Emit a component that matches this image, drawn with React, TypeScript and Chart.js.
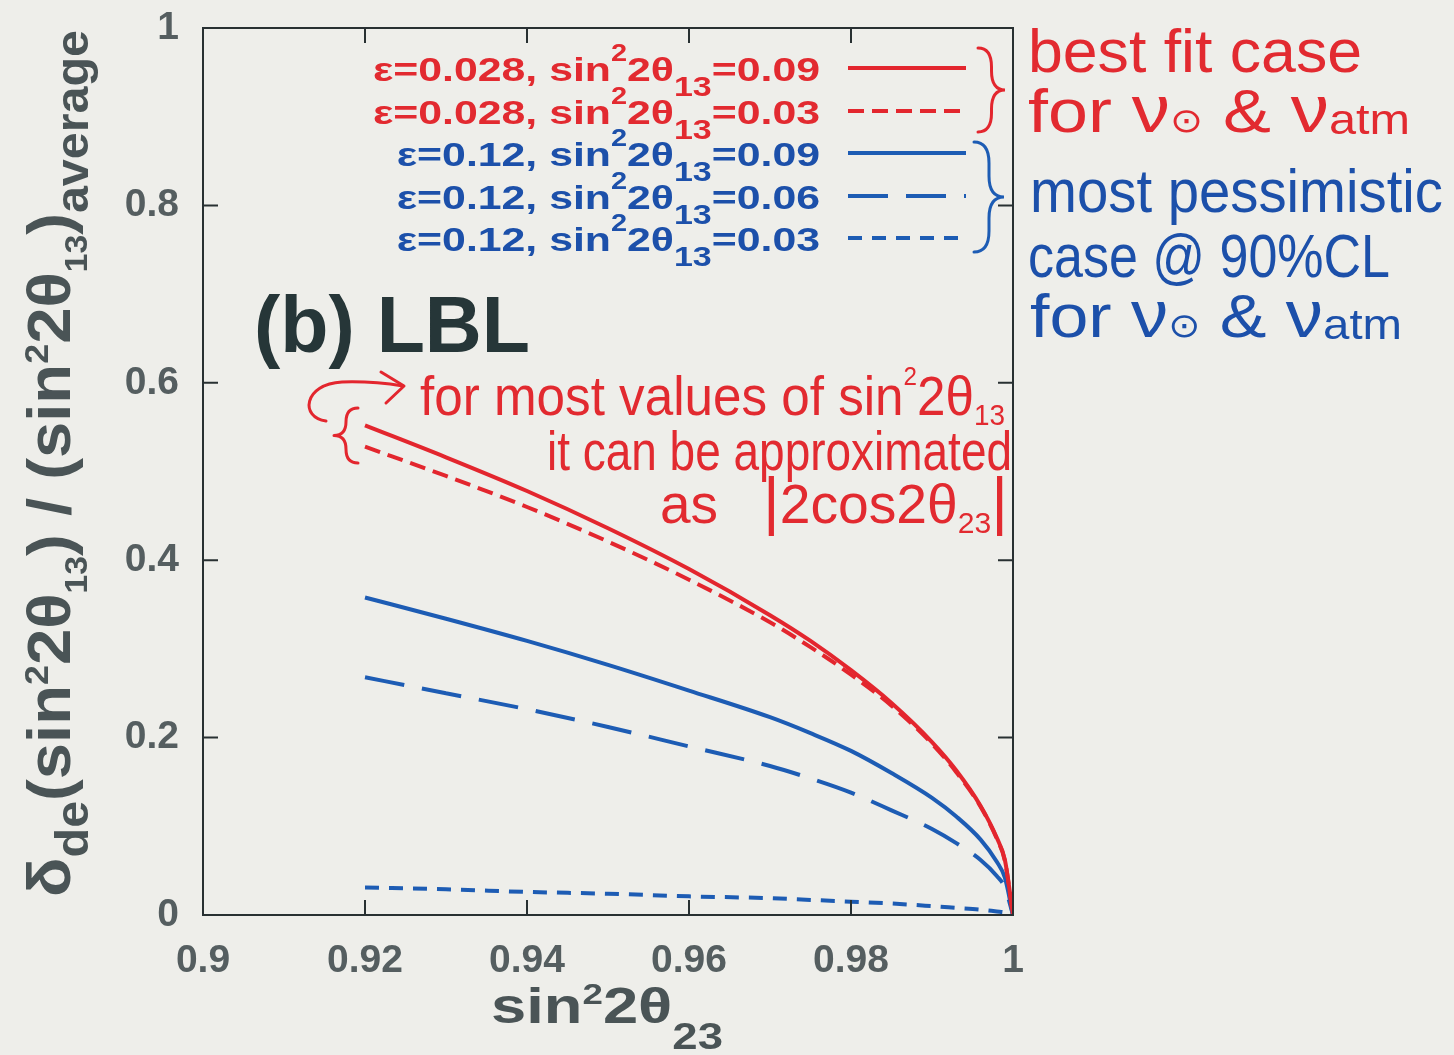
import React, { useEffect, useRef } from "react";
import { Chart, registerables } from "chart.js";

Chart.register(...registerables);

// ---------- data ----------
const xValues = [0.92, 0.93, 0.94, 0.95, 0.96, 0.97, 0.975, 0.98, 0.985, 0.99, 0.993, 0.996, 0.998, 0.999, 1.0];
const redSolid = [0.552, 0.516, 0.478, 0.436, 0.39, 0.338, 0.309, 0.276, 0.239, 0.195, 0.163, 0.123, 0.087, 0.062, 0.0];
const redDashed = [0.528, 0.495, 0.46, 0.421, 0.378, 0.33, 0.302, 0.271, 0.236, 0.193, 0.161, 0.122, 0.086, 0.061, 0.0];
const blueSolid = [0.358, 0.334, 0.309, 0.282, 0.253, 0.223, 0.205, 0.185, 0.16, 0.132, 0.111, 0.085, 0.06, 0.042, 0.0];
const blueLongDash = [0.268, 0.25, 0.232, 0.212, 0.19, 0.168, 0.154, 0.138, 0.118, 0.097, 0.081, 0.062, 0.044, 0.031, 0.0];
const blueShortDash = [0.031, 0.029, 0.026, 0.024, 0.021, 0.019, 0.017, 0.015, 0.013, 0.01, 0.008, 0.006, 0.004, 0.003, 0.0];

const xTicks = [0.9, 0.92, 0.94, 0.96, 0.98, 1.0];
const yTicks = [0, 0.2, 0.4, 0.6, 0.8, 1.0];

const legendEps = ["0.028", "0.028", "0.12", "0.12", "0.12"];
const legendSin13 = ["0.09", "0.03", "0.09", "0.06", "0.03"];

// ---------- styles ----------
const RED = "#e3262e";
const BLUE = "#1d5cb4";
const RED_TXT = "#e22a30";
const BLUE_TXT = "#1c50aa";
const TICK = "#555e60";
const FRAME = "#283032";
const BG = "#eeeeea";
const SANS = "'Liberation Sans', Arial, sans-serif";
const HAND = "'Liberation Sans Narrow', 'Liberation Sans', 'DejaVu Sans', sans-serif";

type Seg = { t: string; size: number; dy?: number; bold?: boolean };

function fontOf(s: Seg, family: string, bold: boolean) {
  const b = s.bold ?? bold;
  return `${b ? "bold " : ""}${s.size}px ${family}`;
}

function richWidth(ctx: CanvasRenderingContext2D, segs: Seg[], family: string, bold: boolean) {
  let w = 0;
  for (const s of segs) {
    ctx.font = fontOf(s, family, bold);
    w += ctx.measureText(s.t).width;
  }
  return w;
}

type RichOpts = {
  family: string;
  bold: boolean;
  color: string;
  align?: "left" | "right" | "center";
  width?: number;
  sx?: number;
  rotate?: boolean;
};

function drawRich(ctx: CanvasRenderingContext2D, segs: Seg[], x: number, y: number, o: RichOpts) {
  const natural = richWidth(ctx, segs, o.family, o.bold);
  const sx = o.width ? o.width / natural : o.sx ?? 1;
  const total = natural * sx;
  ctx.save();
  ctx.translate(x, y);
  if (o.rotate) ctx.rotate(-Math.PI / 2);
  const start = o.align === "right" ? -total : o.align === "center" ? -total / 2 : 0;
  ctx.translate(start, 0);
  ctx.scale(sx, 1);
  ctx.fillStyle = o.color;
  ctx.textBaseline = "alphabetic";
  ctx.textAlign = "left";
  let cx = 0;
  for (const s of segs) {
    ctx.font = fontOf(s, o.family, o.bold);
    ctx.fillText(s.t, cx, s.dy ?? 0);
    cx += ctx.measureText(s.t).width;
  }
  ctx.restore();
  return sx;
}

function drawBrace(ctx: CanvasRenderingContext2D, x: number, y1: number, y2: number, w: number) {
  // w > 0 : tip to the right ; w < 0 : tip to the left
  const xm = x + w * 0.5;
  const xp = x + w;
  const ym = (y1 + y2) / 2;
  const r = Math.min(Math.abs(w) * 0.7, (y2 - y1) / 4);
  ctx.beginPath();
  ctx.moveTo(x, y1);
  ctx.quadraticCurveTo(xm, y1, xm, y1 + r);
  ctx.lineTo(xm, ym - r);
  ctx.quadraticCurveTo(xm, ym, xp, ym);
  ctx.quadraticCurveTo(xm, ym, xm, ym + r);
  ctx.lineTo(xm, y2 - r);
  ctx.quadraticCurveTo(xm, y2, x, y2);
  ctx.stroke();
}

const fmt = (v: number) => String(Number(Number(v).toFixed(2)));

const series = [
  { data: redSolid, color: RED, dash: [] as number[] },
  { data: redDashed, color: RED, dash: [16, 8] },
  { data: blueSolid, color: BLUE, dash: [] as number[] },
  { data: blueLongDash, color: BLUE, dash: [40, 18] },
  { data: blueShortDash, color: BLUE, dash: [14, 10] },
];

const decorPlugin = {
  id: "decor",
  beforeDraw(chart: any) {
    const ctx = chart.ctx as CanvasRenderingContext2D;
    ctx.save();
    ctx.fillStyle = BG;
    ctx.fillRect(0, 0, chart.width, chart.height);
    ctx.restore();
  },
  afterDraw(chart: any) {
    const ctx = chart.ctx as CanvasRenderingContext2D;
    const { left, right, top, bottom } = chart.chartArea;
    const xs = chart.scales.x;
    const ys = chart.scales.y;

    // frame + inner ticks
    ctx.save();
    ctx.strokeStyle = FRAME;
    ctx.lineWidth = 2;
    ctx.strokeRect(left, top, right - left, bottom - top);
    const tl = 15;
    ctx.beginPath();
    for (const v of xTicks.slice(1, -1)) {
      const px = xs.getPixelForValue(v);
      ctx.moveTo(px, bottom);
      ctx.lineTo(px, bottom - tl);
      ctx.moveTo(px, top);
      ctx.lineTo(px, top + tl);
    }
    for (const v of yTicks.slice(1, -1)) {
      const py = ys.getPixelForValue(v);
      ctx.moveTo(left, py);
      ctx.lineTo(left + tl, py);
      ctx.moveTo(right, py);
      ctx.lineTo(right - tl, py);
    }
    ctx.stroke();
    ctx.restore();

    // legend (inside plot, top right)
    const rowY = [68, 111, 153, 196, 238];
    const legendRows: Seg[][] = legendEps.map((e, i) => [
      { t: `ε=${e}, sin`, size: 34 },
      { t: "2", size: 23, dy: -20 },
      { t: "2θ", size: 34 },
      { t: "13", size: 27, dy: 15 },
      { t: `=${legendSin13[i]}`, size: 34 },
    ]);
    const sxLegend = 447 / richWidth(ctx, legendRows[0], SANS, true);
    chart.data.datasets.forEach((ds: any, i: number) => {
      drawRich(ctx, legendRows[i], 820, rowY[i] + 13, {
        family: SANS,
        bold: true,
        color: i < 2 ? RED_TXT : BLUE_TXT,
        align: "right",
        sx: sxLegend,
      });
      ctx.save();
      ctx.strokeStyle = ds.borderColor;
      ctx.lineWidth = 4;
      ctx.setLineDash(ds.borderDash || []);
      ctx.beginPath();
      ctx.moveTo(848, rowY[i]);
      ctx.lineTo(966, rowY[i]);
      ctx.stroke();
      ctx.restore();
    });

    // (b) LBL
    drawRich(ctx, [{ t: "(b) LBL", size: 79 }], 254, 352, {
      family: SANS,
      bold: true,
      color: "#263638",
      width: 276,
    });

    // y-axis title (rotated)
    const yTitle: Seg[] = [
      { t: "δ", size: 62 },
      { t: "de", size: 46, dy: 18 },
      { t: "(sin", size: 62 },
      { t: "2", size: 34, dy: -22 },
      { t: "2θ", size: 62 },
      { t: "13", size: 32, dy: 17 },
      { t: ") / (sin", size: 62 },
      { t: "2", size: 34, dy: -22 },
      { t: "2θ", size: 62 },
      { t: "13", size: 32, dy: 17 },
      { t: ")", size: 62 },
      { t: "average", size: 46, dy: 18 },
    ];
    drawRich(ctx, yTitle, 70, 897, {
      family: SANS,
      bold: true,
      color: "#4a5456",
      rotate: true,
      width: 867,
    });

    // x-axis title
    const xTitle: Seg[] = [
      { t: "sin", size: 50, bold: true },
      { t: "2", size: 29, dy: -19 },
      { t: "2θ", size: 50 },
      { t: "23", size: 36, dy: 26 },
    ];
    drawRich(ctx, xTitle, 491, 1023, {
      family: SANS,
      bold: true,
      color: "#4a5456",
      width: 232,
    });

    // braces next to legend
    ctx.save();
    ctx.lineWidth = 3;
    ctx.lineCap = "round";
    ctx.strokeStyle = RED;
    drawBrace(ctx, 978, 48, 132, 27);
    ctx.strokeStyle = BLUE;
    drawBrace(ctx, 974, 142, 252, 30);
    ctx.restore();

    // hand-written notes on the right
    const red = { family: HAND, bold: false, color: RED_TXT };
    const blue = { family: HAND, bold: false, color: BLUE_TXT };
    drawRich(ctx, [{ t: "best fit case", size: 62 }], 1028, 72, { ...red, width: 334 });
    const forNu: Seg[] = [
      { t: "for ", size: 62 },
      { t: "ν", size: 66 },
      { t: "⊙", size: 34 },
      { t: " & ", size: 62 },
      { t: "ν", size: 66 },
      { t: "atm", size: 42, dy: 2 },
    ];
    drawRich(ctx, forNu, 1028, 132, { ...red, width: 382 });
    drawRich(ctx, [{ t: "most pessimistic", size: 62 }], 1030, 212, { ...blue, width: 413 });
    drawRich(ctx, [{ t: "case @ 90%CL", size: 62 }], 1028, 277, { ...blue, width: 362 });
    drawRich(ctx, forNu, 1030, 337, { ...blue, width: 372 });

    // red annotation inside the plot
    drawRich(
      ctx,
      [
        { t: "for most values of sin", size: 55 },
        { t: "2", size: 26, dy: -30 },
        { t: "2θ", size: 55 },
        { t: "13", size: 30, dy: 10 },
      ],
      420,
      415,
      { ...red, width: 585 }
    );
    drawRich(ctx, [{ t: "it can be approximated", size: 55 }], 547, 470, { ...red, width: 465 });
    drawRich(ctx, [{ t: "as", size: 55 }], 660, 523, { ...red, width: 58 });
    drawRich(
      ctx,
      [
        { t: "|", size: 64 },
        { t: "2cos2θ", size: 55 },
        { t: "23", size: 30, dy: 10 },
        { t: "|", size: 64 },
      ],
      763,
      523,
      { ...red, width: 245 }
    );

    // curved arrow and brace pointing to the red curves
    ctx.save();
    ctx.strokeStyle = RED;
    ctx.lineWidth = 3;
    ctx.lineCap = "round";
    ctx.lineJoin = "round";
    ctx.beginPath();
    ctx.moveTo(326, 421);
    ctx.bezierCurveTo(300, 418, 303, 384, 342, 382);
    ctx.quadraticCurveTo(372, 381, 403, 386);
    ctx.stroke();
    ctx.beginPath();
    ctx.moveTo(381, 372);
    ctx.lineTo(404, 386);
    ctx.lineTo(386, 403);
    ctx.stroke();
    drawBrace(ctx, 358, 408, 463, -24);
    ctx.restore();
  },
};

export default function App() {
  const canvasRef = useRef<HTMLCanvasElement | null>(null);

  useEffect(() => {
    document.body.style.margin = "0";
    document.body.style.background = BG;
    const canvas = canvasRef.current;
    if (!canvas) return;
    const chart = new Chart(canvas, {
      type: "line",
      data: {
        datasets: series.map((s, i) => ({
          label: `ε=${legendEps[i]}, sin²2θ13=${legendSin13[i]}`,
          data: xValues.map((x, k) => ({ x, y: s.data[k] })),
          borderColor: s.color,
          backgroundColor: s.color,
          borderWidth: 4,
          borderDash: s.dash,
          pointRadius: 0,
          fill: false,
          cubicInterpolationMode: "monotone" as const,
        })),
      },
      options: {
        animation: false,
        responsive: false,
        devicePixelRatio: 1,
        layout: { padding: { left: 0, right: 441, top: 28, bottom: 0 } },
        plugins: { legend: { display: false }, tooltip: { enabled: false } },
        scales: {
          x: {
            type: "linear",
            min: 0.9,
            max: 1.0,
            afterBuildTicks: (s: any) => {
              s.ticks = xTicks.map((v) => ({ value: v }));
            },
            afterFit: (s: any) => {
              s.height = 140;
              s.paddingLeft = 0;
              s.paddingRight = 0;
            },
            ticks: {
              callback: (v: any) => fmt(v),
              font: { family: SANS, size: 39, weight: "bold" },
              color: TICK,
              padding: 23,
              maxRotation: 0,
              autoSkip: false,
            },
            grid: { display: false, drawTicks: false },
            border: { display: false },
          },
          y: {
            type: "linear",
            min: 0,
            max: 1,
            afterBuildTicks: (s: any) => {
              s.ticks = yTicks.map((v) => ({ value: v }));
            },
            afterFit: (s: any) => {
              s.width = 203;
              s.paddingTop = 0;
              s.paddingBottom = 0;
            },
            ticks: {
              callback: (v: any) => fmt(v),
              font: { family: SANS, size: 39, weight: "bold" },
              color: TICK,
              padding: 24,
              autoSkip: false,
            },
            grid: { display: false, drawTicks: false },
            border: { display: false },
          },
        },
      },
      plugins: [decorPlugin],
    });
    return () => chart.destroy();
  }, []);

  return (
    <div style={{ position: "fixed", left: 0, top: 0, width: 1454, height: 1055, background: BG }}>
      <canvas ref={canvasRef} width={1454} height={1055} style={{ display: "block" }} />
    </div>
  );
}
